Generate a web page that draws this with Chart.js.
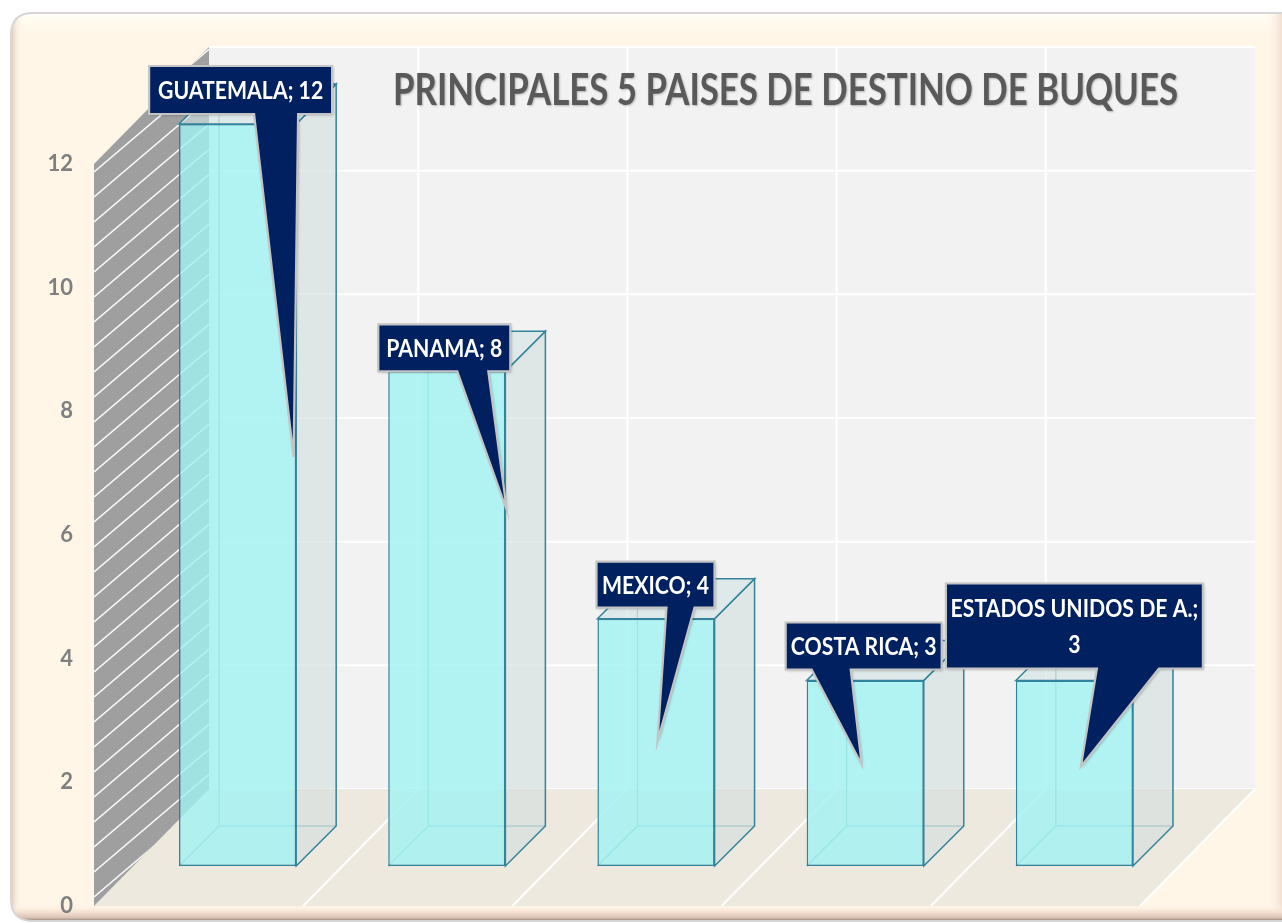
<!DOCTYPE html>
<html>
<head>
<meta charset="utf-8">
<script src="https://cdn.jsdelivr.net/npm/chart.js@4.4.1/dist/chart.umd.min.js"></script>
<style>
html, body { margin: 0; padding: 0; background: #fff; }
#wrap { width: 1282px; height: 923px; position: relative; }
</style>
</head>
<body>
<div id="wrap"><canvas id="buquesChart"></canvas></div>
<script>
const paises = ['GUATEMALA', 'PANAMA', 'MEXICO', 'COSTA RICA', 'ESTADOS UNIDOS DE A.'];
const buques = [12, 8, 4, 3, 3];
const yTicks = [0, 2, 4, 6, 8, 10, 12];
const titulo = 'PRINCIPALES 5 PAISES DE DESTINO DE BUQUES';

// callout placement, relative to each bar (centre x, top y)
const callouts = [
    { bx: 3, by: -58, w: 183, h: 48, p0: 105, p1: 149, tx: 56, ty: 333 },
    { bx: -2.5, by: -47, w: 132, h: 47, p0: 79, p1: 110, tx: 60, ty: 139 },
    { bx: -0.5, by: -57, w: 118, h: 46, p0: 70, p1: 98, tx: 1.5, ty: 123 },
    { bx: -1.5, by: -58, w: 156, h: 47, p0: 26, p1: 65, tx: -3.5, ty: 84 },
    { bx: 0, by: -97, w: 257, h: 85, p0: 151, p1: 213, tx: 6.5, ty: 86, wrap: true }
];

const BAR_D = [40, -40];   // depth of the boxes
const FRONT = [-39, 40];   // floor front edge relative to bar front plane
const BACK = [76, -77];    // back wall relative to bar front plane
const TEAL = '#31849B';

function poly(ctx, pts) {
    ctx.beginPath();
    ctx.moveTo(pts[0][0], pts[0][1]);
    for (let i = 1; i < pts.length; i++) ctx.lineTo(pts[i][0], pts[i][1]);
    ctx.closePath();
}

function roundRect(ctx, x, y, w, h, r) {
    ctx.beginPath();
    ctx.moveTo(x + r, y);
    ctx.lineTo(x + w - r, y);
    ctx.quadraticCurveTo(x + w, y, x + w, y + r);
    ctx.lineTo(x + w, y + h - r);
    ctx.quadraticCurveTo(x + w, y + h, x + w - r, y + h);
    ctx.lineTo(x + r, y + h);
    ctx.quadraticCurveTo(x, y + h, x, y + h - r);
    ctx.lineTo(x, y + r);
    ctx.quadraticCurveTo(x, y, x + r, y);
    ctx.closePath();
}

function drawFrame(ctx, W, H) {
    ctx.save();
    ctx.fillStyle = '#fff';
    ctx.fillRect(0, 0, W, H);
    roundRect(ctx, 11, 13, 1300, 908, 22);
    ctx.fillStyle = '#FFF6E8';
    ctx.fill();
    ctx.save();
    ctx.clip();
    let g = ctx.createLinearGradient(0, 14, 0, 40);
    g.addColorStop(0, '#FFFEF6');
    g.addColorStop(1, 'rgba(255,246,232,0)');
    ctx.fillStyle = g;
    ctx.fillRect(0, 13, W, 28);
    g = ctx.createLinearGradient(12, 0, 22, 0);
    g.addColorStop(0, '#E6D2C4');
    g.addColorStop(1, 'rgba(255,246,232,0)');
    ctx.fillStyle = g;
    ctx.fillRect(11, 13, 12, H);
    g = ctx.createLinearGradient(1266, 0, 1282, 0);
    g.addColorStop(0, 'rgba(255,246,232,0)');
    g.addColorStop(1, '#F2DFD2');
    ctx.fillStyle = g;
    ctx.fillRect(1266, 13, 16, H);
    g = ctx.createLinearGradient(0, 904, 0, 921);
    g.addColorStop(0, 'rgba(255,246,232,0)');
    g.addColorStop(0.45, '#F6E2D2');
    g.addColorStop(0.8, '#D9C3B5');
    g.addColorStop(1, '#8E7E74');
    ctx.fillStyle = g;
    ctx.fillRect(0, 904, W, 18);
    ctx.restore();
    roundRect(ctx, 11, 13, 1300, 908, 22);
    ctx.strokeStyle = '#D6D6D6';
    ctx.lineWidth = 2;
    ctx.stroke();
    ctx.restore();
}

const escena3d = {
    id: 'escena3d',
    beforeDraw(chart) {
        const { ctx, chartArea: a, scales: { x, y } } = chart;
        drawFrame(ctx, chart.width, chart.height);
        ctx.save();
        // back wall
        const bl = a.left + BACK[0], br = a.right + BACK[0];
        const bt = a.top + BACK[1], bb = a.bottom + BACK[1];
        ctx.fillStyle = '#F2F2F2';
        ctx.fillRect(bl, bt, br - bl, bb - bt);
        ctx.strokeStyle = '#FFFFFF';
        ctx.lineWidth = 2;
        yTicks.forEach(v => {
            const py = y.getPixelForValue(v) + BACK[1];
            ctx.beginPath(); ctx.moveTo(bl, py); ctx.lineTo(br, py); ctx.stroke();
        });
        const bounds = [];
        for (let i = 0; i < paises.length - 1; i++) {
            bounds.push((x.getPixelForValue(i) + x.getPixelForValue(i + 1)) / 2);
        }
        bounds.forEach(b => {
            ctx.beginPath(); ctx.moveTo(b + BACK[0], bt); ctx.lineTo(b + BACK[0], bb); ctx.stroke();
        });
        // floor
        const fy = a.bottom + FRONT[1];
        poly(ctx, [[a.left + FRONT[0], fy], [a.right + FRONT[0], fy], [br, bb], [bl, bb]]);
        ctx.fillStyle = '#EDE9DF';
        ctx.fill();
        bounds.concat([a.right]).forEach(b => {
            ctx.beginPath(); ctx.moveTo(b + FRONT[0], fy); ctx.lineTo(b + BACK[0], bb); ctx.stroke();
        });
        // left wall, hatched
        const wall = [[a.left + FRONT[0], fy], [a.left + FRONT[0], a.top + FRONT[1]], [bl, bt], [bl, bb]];
        poly(ctx, wall);
        ctx.fillStyle = '#9F9F9F';
        ctx.fill();
        ctx.save();
        poly(ctx, wall);
        ctx.clip();
        ctx.strokeStyle = 'rgba(255,255,255,0.95)';
        ctx.lineWidth = 1.6;
        for (let yy = bt - 200; yy < fy + 200; yy += 25) {
            ctx.beginPath();
            ctx.moveTo(a.left + FRONT[0], yy);
            ctx.lineTo(bl, yy - (bl - a.left - FRONT[0]) * 0.85);
            ctx.stroke();
        }
        ctx.restore();
        ctx.restore();
    },
    beforeDatasetsDraw(chart) {
        const ctx = chart.ctx;
        const [dx, dy] = BAR_D;
        ctx.save();
        chart.getDatasetMeta(0).data.forEach(bar => {
            const p = bar.getProps(['x', 'y', 'base', 'width'], true);
            const l = p.x - p.width / 2, r = p.x + p.width / 2, t = p.y, b = p.base;
            // hidden back edges
            ctx.strokeStyle = 'rgba(49,132,155,0.55)';
            ctx.lineWidth = 1.3;
            ctx.beginPath();
            ctx.moveTo(l + dx, t + dy); ctx.lineTo(l + dx, b + dy); ctx.lineTo(r + dx, b + dy);
            ctx.moveTo(l, b); ctx.lineTo(l + dx, b + dy);
            ctx.stroke();
            // right side face
            poly(ctx, [[r, t], [r + dx, t + dy], [r + dx, b + dy], [r, b]]);
            ctx.fillStyle = 'rgba(210,222,222,0.6)';
            ctx.fill();
            ctx.strokeStyle = TEAL;
            ctx.lineWidth = 1.5;
            ctx.stroke();
            // top face
            poly(ctx, [[l, t], [l + dx, t + dy], [r + dx, t + dy], [r, t]]);
            ctx.fillStyle = 'rgba(210,226,226,0.6)';
            ctx.fill();
            ctx.stroke();
        });
        ctx.restore();
    },
    afterDatasetsDraw(chart) {
        const ctx = chart.ctx;
        ctx.save();
        chart.getDatasetMeta(0).data.forEach((bar, i) => {
            const c = callouts[i];
            const left = bar.x + c.bx - c.w / 2, top = bar.y + c.by;
            const right = left + c.w, bottom = top + c.h;
            poly(ctx, [[left, top], [right, top], [right, bottom], [left + c.p1, bottom],
                [bar.x + c.tx, bar.y + c.ty], [left + c.p0, bottom], [left, bottom]]);
            ctx.shadowColor = 'rgba(0,0,0,0.3)';
            ctx.shadowBlur = 3;
            ctx.shadowOffsetX = 1;
            ctx.shadowOffsetY = 1;
            ctx.fillStyle = '#002060';
            ctx.fill();
            ctx.shadowColor = 'transparent';
            ctx.strokeStyle = '#C4C4C4';
            ctx.lineWidth = 2.2;
            ctx.stroke();
            const lines = c.wrap ? [paises[i] + ';', String(buques[i])] : [paises[i] + '; ' + buques[i]];
            ctx.fillStyle = '#FFFFFF';
            ctx.font = 'bold 25px Lato';
            ctx.textAlign = 'center';
            ctx.textBaseline = 'middle';
            const cx = (left + right) / 2, cy = (top + bottom) / 2;
            lines.forEach((txt, k) => {
                const ty = cy + (k - (lines.length - 1) / 2) * 36 + 1;
                ctx.save();
                ctx.translate(cx, ty);
                ctx.scale(0.85, 1);
                ctx.fillText(txt, 0, 0);
                ctx.restore();
            });
        });
        // title
        ctx.font = 'bold 44px Lato';
        ctx.textAlign = 'center';
        ctx.textBaseline = 'middle';
        const w = ctx.measureText(titulo).width;
        ctx.translate(785.5, 91);
        ctx.scale(785 / w, 1);
        ctx.shadowColor = 'rgba(0,0,0,0.25)';
        ctx.shadowBlur = 2;
        ctx.shadowOffsetX = 1;
        ctx.shadowOffsetY = 1;
        ctx.fillStyle = '#595959';
        ctx.fillText(titulo, 0, 0);
        ctx.restore();
    }
};

new Chart(document.getElementById('buquesChart'), {
    type: 'bar',
    data: {
        labels: paises,
        datasets: [{
            label: 'Buques',
            data: buques,
            backgroundColor: 'rgba(160,243,243,0.8)',
            borderColor: TEAL,
            borderWidth: 1.5,
            borderSkipped: false,
            categoryPercentage: 1,
            barPercentage: 0.56
        }]
    },
    options: {
        responsive: true,
        maintainAspectRatio: false,
        animation: false,
        layout: { padding: { left: 0, right: 103, top: 124, bottom: 57 } },
        plugins: {
            legend: { display: false },
            tooltip: { enabled: false },
            title: { display: false }
        },
        scales: {
            x: { display: false },
            y: {
                min: 0,
                max: 12,
                afterFit: s => {
                    s.width = 133;
                    s.paddingTop = 0;
                    s.paddingBottom = 0;
                },
                afterBuildTicks: s => { s.ticks = yTicks.map(v => ({ value: v })); },
                grid: { display: false, drawTicks: false },
                border: { display: false },
                ticks: {
                    padding: 60,
                    labelOffset: 40,
                    color: '#7F7F7F',
                    font: { family: 'Lato', weight: 'bold', size: 22 }
                }
            }
        }
    },
    plugins: [escena3d]
});
</script>
</body>
</html>
